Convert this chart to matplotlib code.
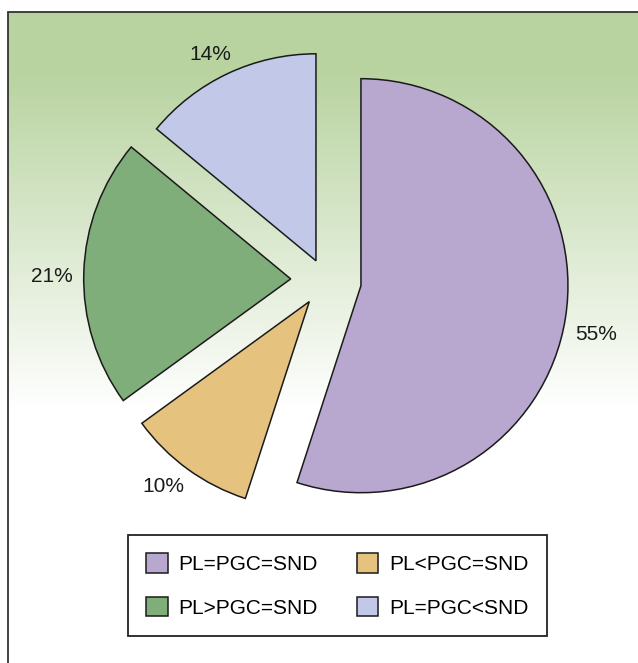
#importando bibliotecas
from matplotlib import pyplot as plt
from matplotlib.patches import Rectangle
import numpy as np

#dados do grafico
VALORES = [55, 10, 21, 14]
ROTULOS = ["55%", "10%", "21%", "14%"]
CATEGORIAS = ["PL=PGC=SND", "PL<PGC=SND", "PL>PGC=SND", "PL=PGC<SND"]
CORES = ["#b8a8d0", "#e6c27f", "#80ae7b", "#c2c8e8"]
#deslocamento das fatias (em pixels, igual ao raio de 207)
EXPLODE = [36.4, 26.7, 34.3, 21.2]

LARGURA, ALTURA = 638, 663
#posicao dos rotulos de porcentagem (pixels, y a partir do topo)
POS_ROTULOS = [(596, 332), (163, 484), (52, 275), (210, 52)]

fig = plt.figure(figsize=(LARGURA / 100, ALTURA / 100), dpi=100)
ax = fig.add_axes([0, 0, 1, 1])

#fundo com degrade verde -> branco
linhas = np.arange(12, ALTURA)
t = np.clip((linhas - 70) / (410 - 70), 0, 1)
verde = np.array([184, 211, 160]) / 255
degrade = verde * (1 - t)[:, None] + np.ones(3) * t[:, None]
ax.imshow(degrade[:, None, :], extent=[8, LARGURA + 5, 0, ALTURA - 12],
          aspect="auto", zorder=0)
ax.add_patch(Rectangle((8, -10), LARGURA, ALTURA - 2, fill=False,
                       edgecolor="#333333", linewidth=1.3, zorder=1))

#pizza
fatias, textos = ax.pie(VALORES, explode=EXPLODE, colors=CORES, labels=ROTULOS,
                        labeldistance=1.14, startangle=90, counterclock=False,
                        center=(325, ALTURA - 280), radius=207,
                        wedgeprops=dict(edgecolor="#1a1a1a", linewidth=1.1, zorder=2),
                        textprops=dict(ha="center", va="center_baseline", fontsize=15,
                                       family="Liberation Sans", color="#1a1a1a"))
for texto, (px, py) in zip(textos, POS_ROTULOS):
    texto.set_position((px, ALTURA - py))

ax.set_xlim(0, LARGURA)
ax.set_ylim(0, ALTURA)
ax.axis("off")

#legenda em duas colunas
ordem = [0, 2, 1, 3]
leg = fig.legend([fatias[i] for i in ordem], [CATEGORIAS[i] for i in ordem],
                 ncol=2, loc="upper left",
                 bbox_to_anchor=(128 / LARGURA, 1 - 535 / ALTURA),
                 borderaxespad=0, fancybox=False, framealpha=1,
                 edgecolor="#222222", handlelength=1.05, handleheight=1.05,
                 handletextpad=0.5, columnspacing=1.85, labelspacing=1.1,
                 borderpad=0.88, prop=dict(family="Liberation Sans", size=15))
leg.get_frame().set_linewidth(1.3)

plt.savefig("out.png", dpi=100)
